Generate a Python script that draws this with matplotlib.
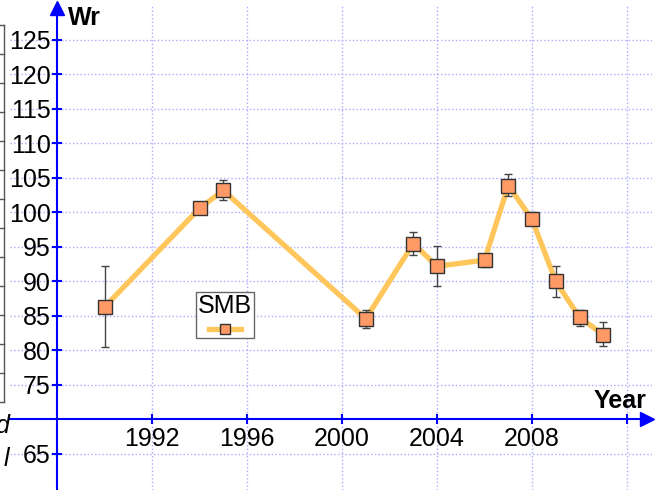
import matplotlib.pyplot as plt
from matplotlib.lines import Line2D
import numpy as np

plt.rcParams['font.family'] = ['Liberation Sans', 'DejaVu Sans']

years = [1990, 1994, 1995, 2001, 2003, 2004, 2006, 2007, 2008, 2009, 2010, 2011]
wr = [86.3, 100.6, 103.2, 84.6, 95.5, 92.2, 93.1, 103.9, 99.0, 90.0, 84.8, 82.3]
wr_lo = [80.5, 99.9, 101.8, 83.2, 93.9, 89.3, 92.1, 102.4, 98.5, 87.7, 83.6, 80.6]
wr_hi = [92.3, 101.0, 104.7, 85.8, 97.2, 95.1, 93.6, 105.6, 100.1, 92.3, 85.9, 84.1]
series_name = 'SMB'

x_ticks = [1992, 1996, 2000, 2004, 2008, 2012]
x_labels = ['1992', '1996', '2000', '2004', '2008', '']
y_ticks = [65, 75, 80, 85, 90, 95, 100, 105, 110, 115, 120, 125]

W, H = 659, 490
fig = plt.figure(figsize=(W / 100, H / 100), dpi=100)
ax = fig.add_axes([10 / W, 0, 642 / W, 485 / H])

line_col = '#FFC65C'
mark_col = '#FF9966'
axis_col = '#0000FF'

yerr = [np.array(wr) - np.array(wr_lo), np.array(wr_hi) - np.array(wr)]
ax.plot(years, wr, color=line_col, linewidth=3.8, zorder=3, solid_capstyle='round')
ax.errorbar(years, wr, yerr=yerr, fmt='none', ecolor='#444444', elinewidth=1,
            capsize=3, capthick=1, zorder=4)
ax.plot(years, wr, linestyle='none', marker='s', markersize=10.5,
        markerfacecolor=mark_col, markeredgecolor='#333333', markeredgewidth=1, zorder=5)

ax.set_xlim(1986.02, 2013.05)
ax.set_ylim(59.78, 130.07)

ax.spines['left'].set_position(('data', 1988))
ax.spines['bottom'].set_position(('data', 70))
ax.spines['top'].set_visible(False)
ax.spines['right'].set_visible(False)
for s in ('left', 'bottom'):
    ax.spines[s].set_color(axis_col)
    ax.spines[s].set_linewidth(1.5)
ax.spines['left'].set_bounds(59.78, 129.5)
ax.spines['bottom'].set_bounds(1986.02, 2012.7)

# arrow heads
ax.plot([1988], [129.7], marker='^', markersize=10, color=axis_col, clip_on=False, zorder=6)
ax.plot([2012.85], [70], marker='>', markersize=10, color=axis_col, clip_on=False, zorder=6)

ax.set_xticks(x_ticks)
ax.set_xticklabels(x_labels)
ax.set_yticks(y_ticks)
ax.tick_params(axis='both', direction='inout', length=7, width=1.5, color=axis_col,
               labelsize=18, labelcolor='black')
ax.tick_params(axis='x', pad=2)
ax.tick_params(axis='y', pad=1)

ax.grid(True, color='#AAAAFF', linestyle=':', linewidth=1, zorder=0)
ax.set_axisbelow(True)

fig.text(68 / W, 1 - 25 / H, 'Wr', fontsize=18, fontweight='bold', va='baseline')
fig.text(647 / W, 1 - 408 / H, 'Year', fontsize=18, fontweight='bold', va='baseline', ha='right')

handle = Line2D([], [], color=line_col, linewidth=3.8, marker='s', markersize=7,
                markerfacecolor=mark_col, markeredgecolor='#333333')
leg = ax.legend(handles=[handle], labels=[''], title=series_name, title_fontsize=18,
                loc='center', bbox_to_anchor=(0.335, 0.36), fancybox=False,
                edgecolor='#666666', framealpha=1, handlelength=2.5, handletextpad=0,
                borderpad=0.15, fontsize=9)
leg.get_frame().set_linewidth(1)

# clipped neighbour element on the left edge
for k in range(14):
    yy = 1 - (25 + 29 * k) / H
    fig.add_artist(Line2D([0, 4 / W], [yy, yy], color='#555555', linewidth=1))
fig.add_artist(Line2D([4 / W, 4 / W], [1 - 25 / H, 1 - 402 / H], color='#555555', linewidth=1))
for txt, yp in [('d', 433), ('l', 466)]:
    fig.text(9 / W, 1 - yp / H, txt, fontsize=18, style='italic', ha='right', va='baseline')

fig.savefig('out.png', dpi=100)
